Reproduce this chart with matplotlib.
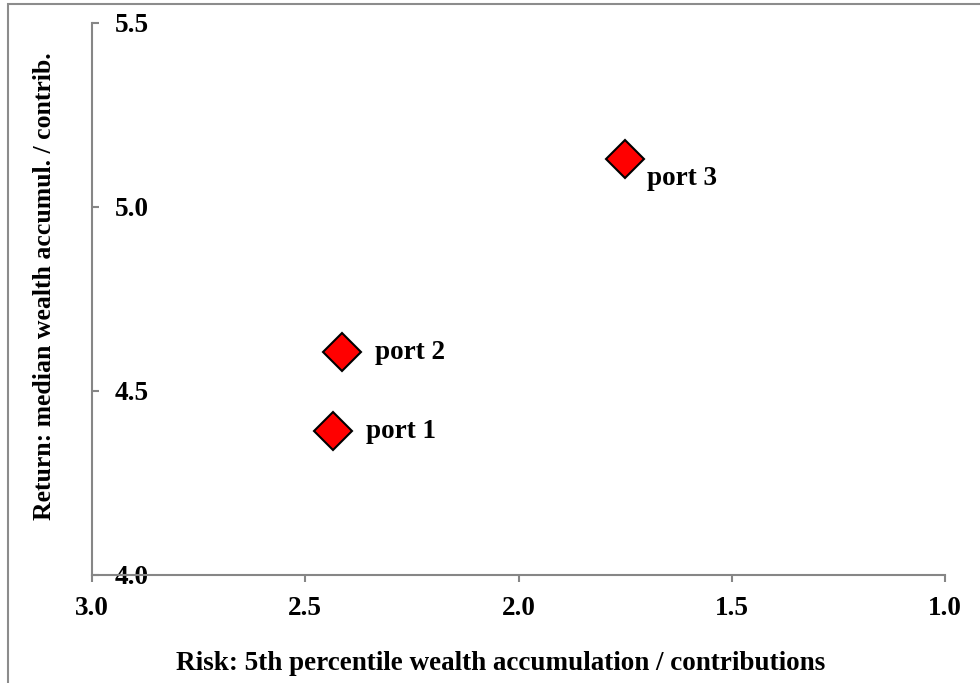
import matplotlib
matplotlib.use("Agg")
import matplotlib.pyplot as plt
from matplotlib.patches import Rectangle

# Data
names = ["port 1", "port 2", "port 3"]
risk = [2.435, 2.415, 1.75]
ret = [4.39, 4.605, 5.13]
label_offsets = [(24, 0), (24, 0), (16, -14)]  # offset points for labels
x_ticks = [3.0, 2.5, 2.0, 1.5, 1.0]
y_ticks = [4.0, 4.5, 5.0, 5.5]

FS = 19.5

plt.rcParams['font.family'] = ['Liberation Serif', 'DejaVu Serif']
plt.rcParams['font.weight'] = 'bold'

fig = plt.figure(figsize=(9.8, 6.83), dpi=100)
ax = fig.add_axes([92/980, 1-575/683, (945-92)/980, (575-23)/683])

# figure border
fig.patches.append(Rectangle((7.5/980, -0.1), 1.2, 1 - 4.5/683 + 0.1, transform=fig.transFigure,
                             fill=False, edgecolor='#8c8c8c', linewidth=1.5, zorder=0))

ax.plot(risk, ret, linestyle='none', marker='D', markersize=19, markerfacecolor='#ff0000',
        markeredgecolor='black', markeredgewidth=1.5, clip_on=False, zorder=3)
for n, x, y, off in zip(names, risk, ret, label_offsets):
    ax.annotate(n, (x, y), xytext=off, textcoords='offset points', ha='left', va='center',
                fontsize=FS, fontweight='bold')

ax.set_xlim(3.0, 1.0)
ax.set_ylim(4.0, 5.5)
ax.set_xticks(x_ticks)
ax.set_yticks(y_ticks)
ax.set_xticklabels([f"{v:.1f}" for v in x_ticks], fontsize=FS, fontweight='bold')
ax.set_yticklabels([f"{v:.1f}" for v in y_ticks], fontsize=FS, fontweight='bold')
for lab in ax.get_yticklabels():
    lab.set_horizontalalignment('left')

for s in ['top', 'right']:
    ax.spines[s].set_visible(False)
for s in ['left', 'bottom']:
    ax.spines[s].set_color('#868686')
    ax.spines[s].set_linewidth(1.5)

ax.tick_params(axis='x', direction='out', length=5, width=1.5, color='#868686', pad=10)
ax.tick_params(axis='y', direction='in', length=5, width=1.5, color='#868686', pad=-16.5)

fig.text(501/980, 1-663/683, "Risk: 5th percentile wealth accumulation / contributions",
         ha='center', va='center', fontsize=FS, fontweight='bold')
fig.text(45/980, 1-286/683, "Return: median wealth accumul. / contrib.",
         ha='center', va='center', rotation=90, fontsize=18.5, fontweight='bold')

fig.savefig("out.png", dpi=100)
